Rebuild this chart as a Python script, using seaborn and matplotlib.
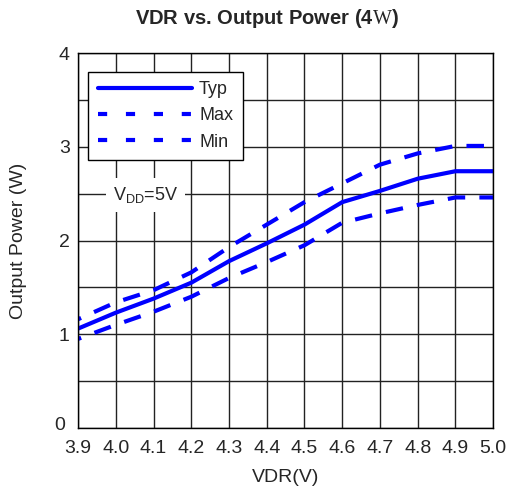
import matplotlib
matplotlib.use("Agg")
import matplotlib.pyplot as plt
import matplotlib.transforms as mtransforms
import seaborn as sns
import pandas as pd

vdr = [3.9, 4.0, 4.1, 4.2, 4.3, 4.4, 4.5, 4.6, 4.7, 4.8, 4.9, 5.0]
typ = [1.06, 1.23, 1.38, 1.55, 1.78, 1.97, 2.17, 2.41, 2.53, 2.66, 2.74, 2.74]
pmax = [1.16, 1.34, 1.47, 1.66, 1.93, 2.17, 2.41, 2.61, 2.81, 2.93, 3.01, 3.01]
pmin = [0.95, 1.10, 1.24, 1.40, 1.60, 1.77, 1.95, 2.19, 2.29, 2.38, 2.46, 2.46]
xticks = [3.9, 4.0, 4.1, 4.2, 4.3, 4.4, 4.5, 4.6, 4.7, 4.8, 4.9, 5.0]
ylabels = ["0", "", "1", "", "2", "", "3", "", "4"]

sns.set_style("white")
plt.rcParams["font.family"] = ["Liberation Sans", "DejaVu Sans"]
plt.rcParams["mathtext.fontset"] = "custom"
plt.rcParams["mathtext.rm"] = "Liberation Serif"
plt.rcParams["mathtext.sf"] = "Liberation Sans"

df = pd.DataFrame({"vdr": vdr, "Typ": typ, "Max": pmax, "Min": pmin})

fig = plt.figure(figsize=(5.1, 4.97), dpi=100)
ax = fig.add_axes([0.153, 0.139, 0.814, 0.754])

blue = "#0000ff"
sns.lineplot(data=df, x="vdr", y="Typ", ax=ax, color=blue, lw=3, label="Typ")
sns.lineplot(data=df, x="vdr", y="Max", ax=ax, color=blue, lw=3, label="Max")
sns.lineplot(data=df, x="vdr", y="Min", ax=ax, color=blue, lw=3, label="Min")
lines = ax.get_lines()
for ln in lines[1:3]:
    ln.set_linestyle((3.4, (4.2, 3.4)))
    ln.set_dash_capstyle("butt")

ax.set_xlim(3.9, 5.0)
ax.set_ylim(0, 4)
ax.set_xticks(xticks)
ax.set_xticklabels([f"{x:.1f}" for x in xticks], fontsize=14)
ax.set_yticks([i / 2 for i in range(9)])
ax.set_yticklabels(ylabels, fontsize=14)
ax.tick_params(length=0)
ax.tick_params(axis="x", pad=9)
ax.tick_params(axis="y", pad=6)
# "0" sits a bit up and to the left of the corner
zero = ax.get_yticklabels()[0]
zero.set_transform(zero.get_transform() +
                   mtransforms.ScaledTranslation(-3 / 72, 3 / 72, fig.dpi_scale_trans))
ax.grid(True, color="#222222", lw=1)
for s in ax.spines.values():
    s.set_color("black")
    s.set_linewidth(1)

ax.set_xlabel("VDR(V)", fontsize=14, labelpad=8)
ax.set_ylabel("Output Power (W)", fontsize=14, labelpad=20)

leg = ax.legend(loc="upper left", bbox_to_anchor=(0.024, 0.951), fontsize=13,
                frameon=True, fancybox=False, handlelength=5.2,
                borderaxespad=0, labelspacing=0.5, handletextpad=0.4,
                borderpad=0.55)
leg.get_frame().set_edgecolor("black")
leg.get_frame().set_linewidth(1)
leg.get_frame().set_alpha(1)
for h in leg.get_lines():
    h.set_linewidth(3)
leg.get_lines()[1].set_dashes((2.2, 4.5))
leg.get_lines()[2].set_dashes((2.2, 4.5))

ax.text(4.078, 2.49, r"V$_{\mathsf{DD}}$=5V", fontsize=13, ha="center",
        va="center", bbox=dict(facecolor="white", edgecolor="none", pad=5))

fig.text(0.524, 0.962, r"VDR vs. Output Power (4$\mathrm{W}$)", fontsize=14.5,
         fontweight="bold", ha="center", va="center")

fig.savefig("out.png", dpi=100)
